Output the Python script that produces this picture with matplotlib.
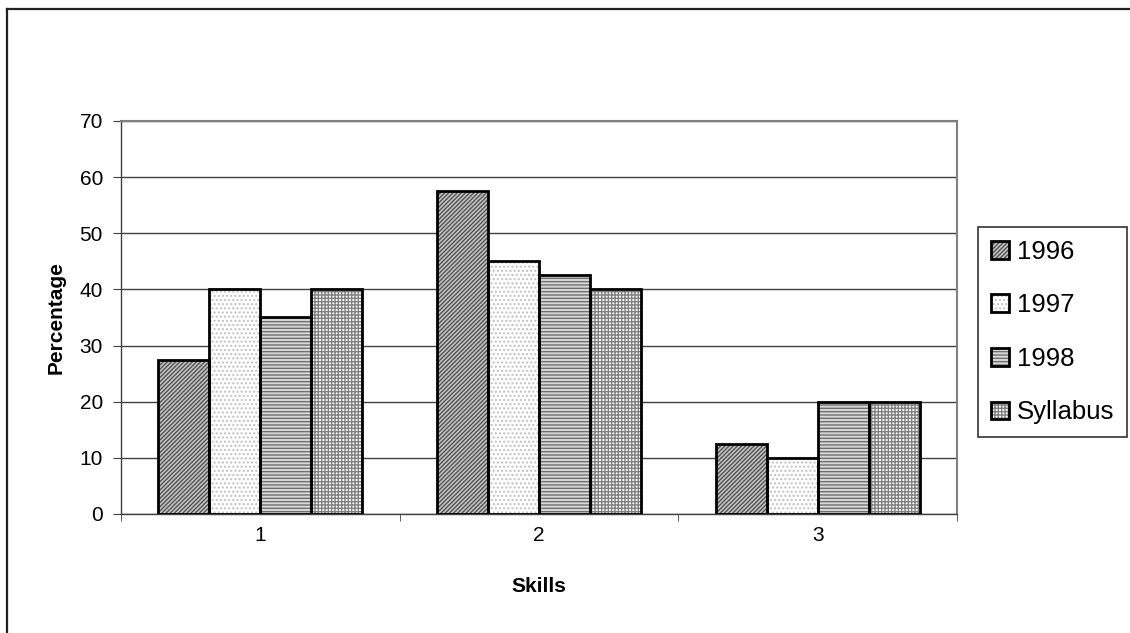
import numpy as np
import matplotlib.pyplot as plt
from matplotlib.lines import Line2D
from matplotlib.legend_handler import HandlerPatch

plt.rcParams['font.family'] = ['Liberation Sans', 'DejaVu Sans']
plt.rcParams['hatch.linewidth'] = 1.0

skills = ['1', '2', '3']
series = ['1996', '1997', '1998', 'Syllabus']
v1996 = [27.5, 57.5, 12.5]
v1997 = [40, 45, 10]
v1998 = [35, 42.5, 20]
vsyll = [40, 40, 20]
values = [v1996, v1997, v1998, vsyll]

# fill colour, hatch pattern, hatch colour for each series
styles = [
    ('#c8c8c8', '////////', '#505050'),
    ('#ffffff', '....', '#c0c0c0'),
    ('#d8d8d8', '-----', '#707070'),
    ('#ffffff', '+++++', '#808080'),
]

fig = plt.figure(figsize=(11.3, 6.33), dpi=100)
ax = fig.add_axes([0.1071, 0.188, 0.7398, 0.6209])

ind = np.arange(len(skills))
width = 0.183
handles = []
for k, (vals, (fc, hatch, hc)) in enumerate(zip(values, styles)):
    xpos = ind + (k - 1.5) * width
    ax.bar(xpos, vals, width, color=fc, hatch=hatch, edgecolor=hc,
           linewidth=0, zorder=2)
    ax.bar(xpos, vals, width, fill=False, edgecolor='black',
           linewidth=2, zorder=3)
    h = plt.Rectangle((0, 0), 1, 1, facecolor=fc, hatch=hatch,
                      edgecolor=hc, linewidth=0)
    handles.append(h)

ax.set_xlim(-0.5, 2.5)
ax.set_ylim(0, 70)
ax.set_yticks(np.arange(0, 71, 10))
ax.yaxis.grid(True, color='#404040', linewidth=1)
ax.set_axisbelow(True)

ax.set_xticks(ind)
ax.set_xticklabels(skills)
ax.set_xticks(np.arange(-0.5, 2.6, 1), minor=True)
ax.tick_params(axis='x', which='major', length=0, pad=9, labelsize=15)
ax.tick_params(axis='x', which='minor', length=5, color='#404040')
ax.tick_params(axis='y', length=6, pad=7, labelsize=15, color='#404040')

for s in ['top', 'right']:
    ax.spines[s].set_color('#808080')
    ax.spines[s].set_linewidth(1.5)
for s in ['left', 'bottom']:
    ax.spines[s].set_color('#404040')
    ax.spines[s].set_linewidth(1)

ax.set_xlabel('Skills', fontsize=15, fontweight='bold', labelpad=23)
ax.set_ylabel('Percentage', fontsize=15, fontweight='bold', labelpad=10)


# legend keys: hatched square with a black outline
class OutlinedHandler(HandlerPatch):
    def create_artists(self, legend, orig_handle, xdescent, ydescent,
                       width, height, fontsize, trans):
        size = min(width, height)
        x0 = -xdescent + (width - size) / 2
        y0 = -ydescent + (height - size) / 2
        fill = plt.Rectangle((x0, y0), size, size,
                             facecolor=orig_handle.get_facecolor(),
                             hatch=orig_handle.get_hatch(),
                             edgecolor=orig_handle.get_edgecolor(),
                             linewidth=0, transform=trans)
        edge = plt.Rectangle((x0, y0), size, size, fill=False,
                             edgecolor='black', linewidth=2,
                             transform=trans)
        return [fill, edge]


leg = fig.legend(handles, series, loc='upper right',
                 bbox_to_anchor=(1127 / 1130, 1 - 227 / 633),
                 fontsize=18.5, frameon=True, fancybox=False,
                 edgecolor='black', labelspacing=1.15,
                 handlelength=0.7, handleheight=0.7, handletextpad=0.3,
                 borderpad=0.5, borderaxespad=0,
                 handler_map={plt.Rectangle: OutlinedHandler()})
leg.get_frame().set_linewidth(1.2)

# outer chart border
fig.add_artist(Line2D([7 / 1130, 1.0], [1 - 9 / 633, 1 - 9 / 633],
                      transform=fig.transFigure, color='#222222',
                      linewidth=1.6))
fig.add_artist(Line2D([7 / 1130, 7 / 1130], [0.0, 1 - 9 / 633],
                      transform=fig.transFigure, color='#222222',
                      linewidth=1.6))

fig.savefig('out.png', dpi=100)
